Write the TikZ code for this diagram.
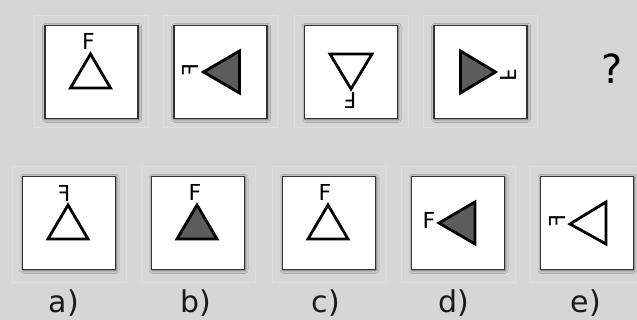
\documentclass[tikz,border=0pt]{standalone}
\usepackage{fontspec}
\setmainfont{DejaVu Sans}
\usetikzlibrary{shadows.blur}
\definecolor{bggray}{RGB}{214,214,214}
\definecolor{cellline}{RGB}{222,222,222}
\definecolor{trifill}{RGB}{92,92,92}
\tikzset{
	card/.style={draw=black!80, line width=1.5pt, fill=white, minimum width=93pt, minimum height=93pt, inner sep=0pt,
		blur shadow={shadow xshift=0.6pt, shadow yshift=-0.8pt, shadow blur radius=3pt, shadow blur steps=6, shadow opacity=55}},
	tri/.style={draw=black, line width=2.8pt, fill=white},
	darktri/.style={tri, fill=trifill},
	letter/.style={inner sep=0pt, font=\fontsize{22}{22}\selectfont},
	optlabel/.style={inner sep=0pt, font=\fontsize{30}{30}\selectfont, text=black!90},
	cell/.style={draw=cellline, line width=0.7pt}
}
\begin{document}
\begin{tikzpicture}[x=1pt,y=-1pt]
				\fill[bggray] (0,0) rectangle (637,320);
				\useasboundingbox (0,0) rectangle (637,320);
				\foreach \cx in {91.5,220.5,351,480.5}
					\draw[cell] (\cx-57,15) rectangle (\cx+57,127);
				\foreach \cx in {69,198,329,458,587}
					\draw[cell] (\cx-57,166) rectangle (\cx+57,282);
				\node[card](q1) at (91.5,72){};
				\node[card](q2) at (220.5,72){};
				\node[card](q3) at (351,72){};
				\node[card](q4) at (480.5,72){};
				\node[card](oa) at (69,223){};
				\node[card](ob) at (198,223){};
				\node[card](oc) at (329,223){};
				\node[card](od) at (458,223){};
				\node[card](oe) at (587,223){};
				\begin{scope}[shift={(q1.center)}]
					\draw[tri] (-1,-18) -- (19,16) -- (-21,16) -- cycle;
					\node[letter](f1) at (-3,-31){F};
				\end{scope}
				\begin{scope}[shift={(q2.center)}]
					\draw[darktri] (-17,0) -- (19,-21) -- (19,21) -- cycle;
					\node[letter](f2) at (-30,-2){\rotatebox{90}{\scalebox{-1}[1]{F}}};
				\end{scope}
				\begin{scope}[shift={(q3.center)}]
					\draw[tri] (-21,-18) -- (21,-18) -- (0,17) -- cycle;
					\node[letter](f3) at (-1,29){\rotatebox{180}{F}};
				\end{scope}
				\begin{scope}[shift={(q4.center)}]
					\draw[darktri] (15,0) -- (-20,-21) -- (-20,21) -- cycle;
					\node[letter](f4) at (28,3){\rotatebox{-90}{\scalebox{-1}[1]{F}}};
				\end{scope}
				\begin{scope}[shift={(oa.center)}]
					\draw[tri] (-1,-18) -- (19,16) -- (-21,16) -- cycle;
					\node[letter](fa) at (-5,-30){\scalebox{-1}[1]{F}};
				\end{scope}
				\begin{scope}[shift={(ob.center)}]
					\draw[darktri] (-1,-18) -- (19,16) -- (-21,16) -- cycle;
					\node[letter](fb) at (-3,-31){F};
				\end{scope}
				\begin{scope}[shift={(oc.center)}]
					\draw[tri] (-1,-18) -- (19,16) -- (-21,16) -- cycle;
					\node[letter](fc) at (-4,-31){F};
				\end{scope}
				\begin{scope}[shift={(od.center)}]
					\draw[darktri] (-19,0) -- (17,-21) -- (17,21) -- cycle;
					\node[letter](fd) at (-29,-3){F};
				\end{scope}
				\begin{scope}[shift={(oe.center)}]
					\draw[tri] (-17,1) -- (19,-21) -- (19,21) -- cycle;
					\node[letter](fe) at (-30,-2){\rotatebox{90}{\scalebox{-1}[1]{F}}};
				\end{scope}
				\node[font=\fontsize{40}{40}\selectfont, inner sep=0pt](qmark) at (612.5,69){?};
				\node[optlabel](la) at (64,303){a)};
				\node[optlabel](lb) at (196,303){b)};
				\node[optlabel](lc) at (326,303){c)};
				\node[optlabel](ld) at (454,303){d)};
				\node[optlabel](le) at (586,303){e)};
			\end{tikzpicture}
\end{document}
